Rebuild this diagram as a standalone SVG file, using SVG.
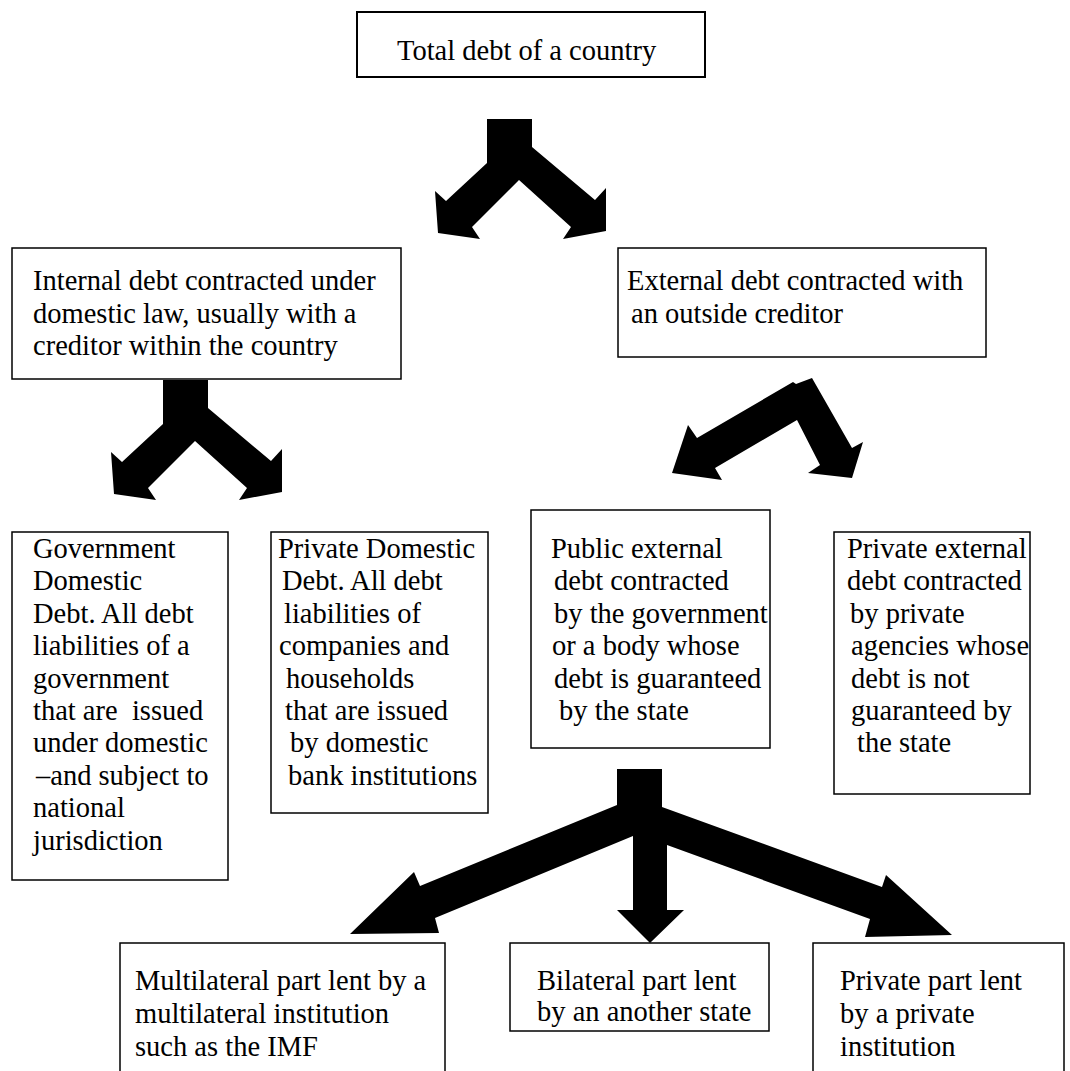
<svg xmlns="http://www.w3.org/2000/svg" xmlns:xlink="http://www.w3.org/1999/xlink" width="1070" height="1071" viewBox="0 0 1070 1071">
<style>
.box{fill:#fff;stroke:#000;stroke-width:1.5}
.t{font-size:28.5px;fill:#000}
.arr{fill:#000;stroke:none}
</style>
<defs>
<polygon id="fork" points="487,119 532,119 532,147 595,200 606,188 606,231 563,239 571,227 519,180 472,227 480,239 438,233 435,191 446,201 487,163"/>
</defs>
<rect width="1070" height="1071" fill="#fff"/>

<g id="connectors" class="arr">
<use xlink:href="#fork"/>
<use xlink:href="#fork" transform="translate(-324,261)"/>
<polygon points="697,438 793,382 796,384 812,378 852,448 863,442 852,478 808,473 820,465 797,420 715,468 722,480 672,473 688,425"/>
<polygon points="617,769 662,769 662,807 882,887 886,875 952,935 865,937 870,919 667,845 667,910 684,910 650,943 617,910 633,910 633,836 435,918 439,933 350,934 414,872 420,886 617,805"/>
</g>

<g id="nodes" font-family="'Liberation Serif', 'Times New Roman', 'DejaVu Serif', serif">
<g id="total">
<rect class="box" x="357" y="12" width="348" height="65" style="stroke-width:2"/>
<text class="t" x="397" y="60">Total debt of a country</text>
</g>

<g id="internal">
<rect class="box" x="12" y="248" width="389" height="131"/>
<text class="t" x="33" y="290">Internal debt contracted under</text>
<text class="t" x="33" y="322.5">domestic law, usually with a</text>
<text class="t" x="33" y="355">creditor within the country</text>
</g>

<g id="external">
<rect class="box" x="618" y="248" width="368" height="109"/>
<text class="t" x="627" y="290">External debt contracted with</text>
<text class="t" x="631" y="322.5">an outside creditor</text>
</g>

<g id="government">
<rect class="box" x="12" y="532" width="216" height="348"/>
<text class="t" x="33" y="558">Government</text>
<text class="t" x="33" y="590.4">Domestic</text>
<text class="t" x="33" y="622.8">Debt. All debt</text>
<text class="t" x="33" y="655.2">liabilities of a</text>
<text class="t" x="33" y="687.6">government</text>
<text class="t" x="33" y="720" xml:space="preserve">that are  issued</text>
<text class="t" x="33" y="752.4">under domestic</text>
<text class="t" x="36" y="784.8">–and subject to</text>
<text class="t" x="33" y="817.2">national</text>
<text class="t" x="33" y="849.6">jurisdiction</text>
</g>

<g id="private-domestic">
<rect class="box" x="271" y="532" width="217" height="281"/>
<text class="t" x="278" y="558">Private Domestic</text>
<text class="t" x="282" y="590.4">Debt. All debt</text>
<text class="t" x="284" y="622.8">liabilities of</text>
<text class="t" x="279" y="655.2">companies and</text>
<text class="t" x="286" y="687.6">households</text>
<text class="t" x="285" y="720">that are issued</text>
<text class="t" x="290" y="752.4">by domestic</text>
<text class="t" x="288" y="784.8">bank institutions</text>
</g>

<g id="public-external">
<rect class="box" x="531" y="510" width="239" height="238"/>
<text class="t" x="551" y="558">Public external</text>
<text class="t" x="554" y="590.4">debt contracted</text>
<text class="t" x="554" y="622.8">by the government</text>
<text class="t" x="552" y="655.2">or a body whose</text>
<text class="t" x="554" y="687.6">debt is guaranteed</text>
<text class="t" x="559" y="720">by the state</text>
</g>

<g id="private-external">
<rect class="box" x="834" y="532" width="196" height="262"/>
<text class="t" x="847" y="558">Private external</text>
<text class="t" x="847" y="590.4">debt contracted</text>
<text class="t" x="850" y="622.8">by private</text>
<text class="t" x="851" y="655.2">agencies whose</text>
<text class="t" x="851" y="687.6">debt is not</text>
<text class="t" x="851" y="720">guaranteed by</text>
<text class="t" x="857" y="752.4">the state</text>
</g>

<g id="multilateral">
<rect class="box" x="120" y="943" width="325" height="140"/>
<text class="t" x="135" y="990">Multilateral part lent by a</text>
<text class="t" x="135" y="1023">multilateral institution</text>
<text class="t" x="135" y="1056">such as the IMF</text>
</g>

<g id="bilateral">
<rect class="box" x="510" y="943" width="259" height="88"/>
<text class="t" x="537" y="990">Bilateral part lent</text>
<text class="t" x="537" y="1021">by an another state</text>
</g>

<g id="private-part">
<rect class="box" x="813" y="943" width="251" height="140"/>
<text class="t" x="840" y="990">Private part lent</text>
<text class="t" x="840" y="1023">by a private</text>
<text class="t" x="840" y="1056">institution</text>
</g>
</g>
</svg>
